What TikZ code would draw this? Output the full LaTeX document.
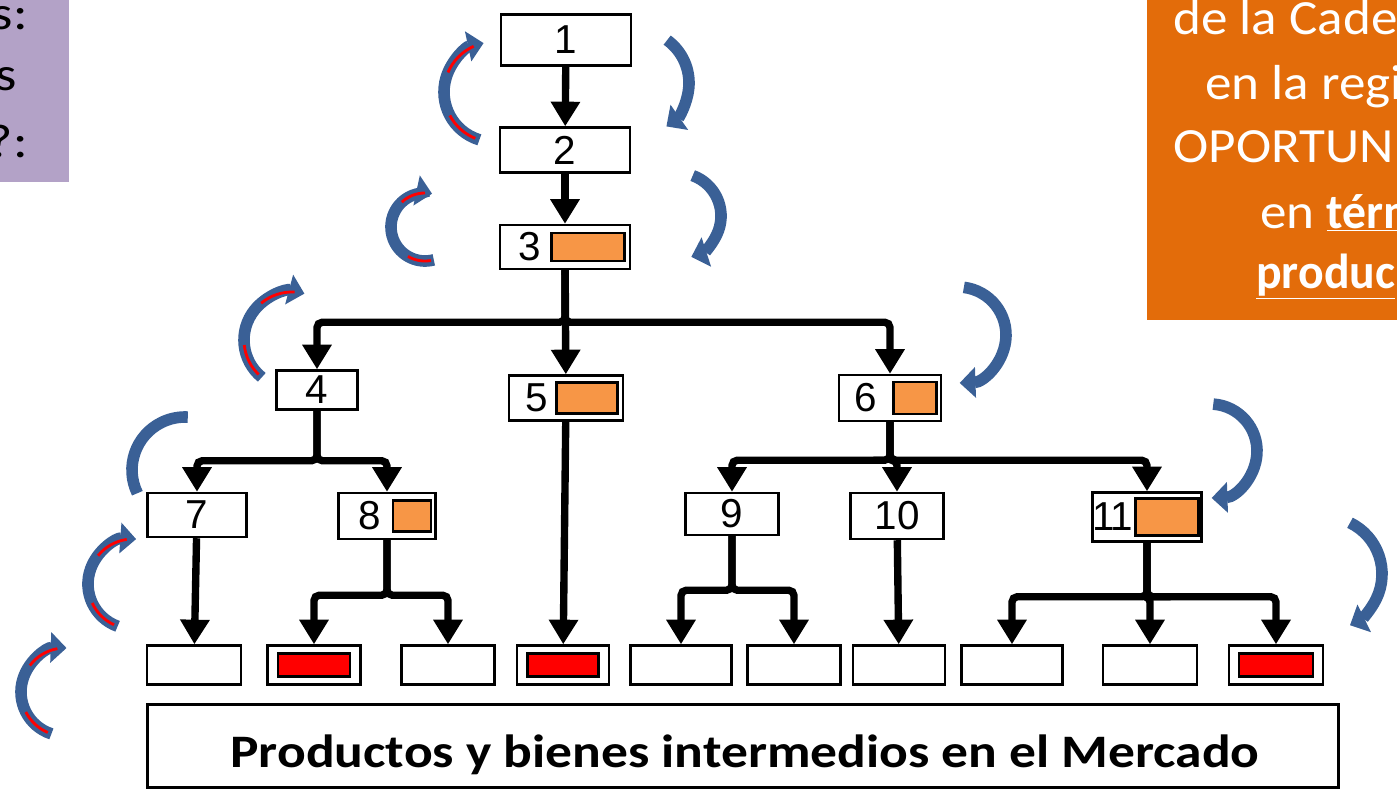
\documentclass[tikz,border=0pt]{standalone}
\usepackage{fontspec}
\setmainfont[FakeStretch=1.15]{Carlito}
\newfontfamily\goalfont[FakeStretch=1.08]{Carlito}
\newfontfamily\goalboldfont[FakeStretch=0.97]{Carlito}
\newfontfamily\arialfont{Liberation Sans}
\usetikzlibrary{arrows.meta}

\definecolor{chainorange}{RGB}{227,108,10}
\definecolor{markorange}{RGB}{247,150,70}
\definecolor{noteviolet}{RGB}{179,162,199}
\definecolor{loopblue}{RGB}{58,96,150}

\tikzset{%
  every stage/.style={
    draw,
    fill=white,
    line width=1.4pt,
    inner sep=0pt,
    font=\arialfont\fontsize{23}{26}\selectfont
  },
  stage mark/.style={
    draw,
    line width=1.2pt,
    fill=markorange,
    inner sep=0pt
  },
  market mark/.style={
    stage mark,
    fill=red
  },
  flow/.style={
    ->,
    line width=4.2pt,
    rounded corners=3pt
  },
  loop arrow/.style={
    draw=loopblue,
    line width=6.6pt,
    -{Triangle[length=9pt,width=17pt]}
  },
  loop plain/.style={
    draw=loopblue,
    line width=6.6pt
  },
  loop trace/.style={
    draw=red,
    line width=1.6pt
  },
  note text/.style={
    inner sep=0pt,
    font=\fontsize{27}{30}\selectfont
  },
}

\begin{document}
\begin{tikzpicture}[x=0.02cm, y=-0.02cm, >={Triangle[length=14pt,width=16pt]}]

\useasboundingbox (0,0) rectangle (1397,794);

\fill[noteviolet] (0,0) rectangle (69,182);
\foreach \t/\x/\y [count=\i] in {s:/28/30, s/17/91, ?:/28/157}
  \node [note text, anchor=base east] (note-\i) at (\x,\y) {\t};

\fill[chainorange] (1147,0) rectangle (1397,320);
\foreach \t/\x/\y [count=\i] in {de la Cade/1173/35, en la regi/1205/100, OPORTUN/1173/163,
    {en \underline{\goalboldfont\bfseries térm}}/1260/228,
    {\underline{\goalboldfont\bfseries produc}}/1256/288}
  \node [note text, font=\goalfont\fontsize{28}{30}\selectfont, text=white, anchor=base west]
    (goal-\i) at (\x,\y) {\t};

\foreach \n/\x/\y/\w/\h in {1/566/40/130/51, 2/565/150/130/45, 4/317/390/81/39,
    7/197/515/99/44, 9/732/514/93/42, 10/897/516/93/46}
  \node [every stage, minimum width=\w*0.02cm, minimum height=\h*0.02cm]
    (stage-\n) at (\x,\y) {\n};

\foreach \n/\l/\x/\y/\w/\h/\dx/\mx/\mw/\mh in {3/3/565/247/130/44/530/588/73/28,
    5/5/566/398/114/45/537/587/61/31, 6/6/890/398/102/46/866/915/43/32,
    8/8/387/516/97/46/370/412/38/31, 11/{1\kern-2.5pt1}/1147/517/109/49/1113/1167/63/37}{
  \node [every stage, minimum width=\w*0.02cm, minimum height=\h*0.02cm]
    (stage-\n) at (\x,\y) {};
  \node [every stage, draw=none, fill=none] (stage-\n-num) at (\dx,\y) {\l};
  \node [stage mark, minimum width=\mw*0.02cm, minimum height=\mh*0.02cm]
    (stage-\n-mark) at (\mx,\y) {};
}

\foreach \x/\w [count=\i] in {194/94, 314/93, 448/93, 563/92, 681/101, 794/93,
    899/92, 1012/101, 1150/94, 1276/94}
  \node [every stage, minimum width=\w*0.02cm, minimum height=39*0.02cm]
    (market-\i) at (\x,665) {};

\foreach \i/\w in {2/72, 4/71, 10/74}
  \node [market mark, minimum width=\w*0.02cm, minimum height=23*0.02cm]
    (market-\i-mark) at (market-\i) {};

\node [every stage, minimum width=1191*0.02cm, minimum height=83*0.02cm]
  (market) at (743,746) {};
\node [inner sep=0pt, anchor=base, font=\bfseries\fontsize{26.5}{30}\selectfont]
  (market-label) at (745,767) {Productos y bienes intermedios en el Mercado};

\draw [flow] (stage-1) -- (stage-2);
\draw [flow] (stage-2) -- (stage-3);
\draw [flow] (stage-3) -- (stage-5);
\foreach \j in {4,6}
  \draw [flow] (stage-3.south) -- ++(0,52) -| (stage-\j.north);

\foreach \j in {7,8}
  \draw [flow] (stage-4.south) -- ++(0,50) -| (stage-\j.north);

\foreach \j in {9,10,11}
  \draw [flow] (stage-6.south) -- ++(0,38) -| (stage-\j.north);

\draw [flow] (stage-5) -- (market-4);
\draw [flow] (stage-7) -- (market-1);
\draw [flow] (stage-10) -- (market-7);

\foreach \j in {2,3}
  \draw [flow] (stage-8.south) -- ++(0,55) -| (market-\j.north);

\foreach \j in {5,6}
  \draw [flow] (stage-9.south) -- ++(0,54) -| (market-\j.north);

\foreach \j in {8,9,10}
  \draw [flow] (stage-11.south) -- ++(0,54) -| (market-\j.north);

\foreach \cx/\cy/\r/\a/\b in {494/92/50/107/258, 425/227/34/75/282, 292/340/48/129/285,
    133/584/45/110/274, 65/692/44/108/272}{
  \draw [loop arrow] ([shift={(\a:\r)}]\cx,\cy) arc[start angle=\a, end angle=\b, radius=\r];
  \draw [loop trace] ([shift={({\a+5}:\r)}]\cx,\cy) arc[start angle=\a+5, end angle=\a+45, radius=\r];
  \draw [loop trace] ([shift={({\b-55}:\r)}]\cx,\cy) arc[start angle=\b-55, end angle=\b-12, radius=\r];
}

\draw [loop plain] ([shift={(154:53)}]185,470) arc[start angle=154, end angle=273, radius=53];

\foreach \cx/\cy/\r/\a/\b in {636/83/53/-54/55, 678/216/43/-70/72, 958/335/48/-83/88,
    1210/451/47/-86/88, 1325/574/57/-64/64}
  \draw [loop arrow] ([shift={(\a:\r)}]\cx,\cy) arc[start angle=\a, end angle=\b, radius=\r];

\end{tikzpicture}
\end{document}
